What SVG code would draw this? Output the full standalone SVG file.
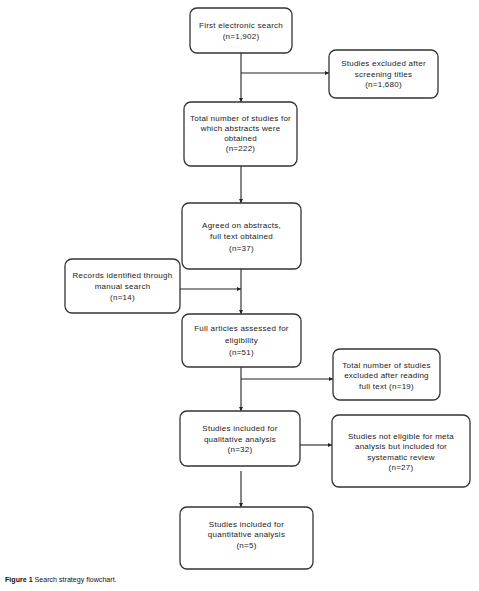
<svg xmlns="http://www.w3.org/2000/svg" width="479" height="591" viewBox="0 0 479 591">
<style>
.box{fill:#fff;stroke:#333;stroke-width:1.3}
.t{font-family:"Liberation Sans",Arial,sans-serif;font-size:8px;letter-spacing:0.25px;fill:#222;text-anchor:middle}
.c{stroke:#222;stroke-width:1.1;fill:none}
.cap{font-family:"Liberation Sans",Arial,sans-serif;font-size:7.1px;fill:#111}
</style>
<defs>
<marker id="ah" viewBox="0 0 10 10" refX="10" refY="5" markerWidth="4" markerHeight="4" orient="auto" markerUnits="userSpaceOnUse">
<path d="M0,0 L10,5 L0,10 z" fill="#222"/>
</marker>
</defs>
<rect width="479" height="591" fill="#fff"/>
<g id="connectors">
<line class="c" x1="241" y1="53" x2="241" y2="102" marker-end="url(#ah)"/>
<line class="c" x1="241" y1="73" x2="329" y2="73" marker-end="url(#ah)"/>
<line class="c" x1="241" y1="166" x2="241" y2="203" marker-end="url(#ah)"/>
<line class="c" x1="180" y1="289" x2="241" y2="289" marker-end="url(#ah)"/>
<line class="c" x1="241" y1="269" x2="241" y2="314" marker-end="url(#ah)"/>
<line class="c" x1="241" y1="367" x2="241" y2="411" marker-end="url(#ah)"/>
<line class="c" x1="241" y1="379" x2="333" y2="379" marker-end="url(#ah)"/>
<line class="c" x1="300" y1="445" x2="332" y2="445" marker-end="url(#ah)"/>
<line class="c" x1="241" y1="471" x2="241" y2="507" marker-end="url(#ah)"/>
</g>
<g id="n1">
<rect class="box" x="190" y="8" width="102" height="45" rx="7"/>
<text class="t" x="241" y="27.5">First electronic search</text>
<text class="t" x="241" y="38.5">(n=1,902)</text>
</g>
<g id="n2">
<rect class="box" x="329" y="50" width="109" height="48" rx="7"/>
<text class="t" x="383.5" y="66">Studies excluded after</text>
<text class="t" x="383.5" y="77">screening titles</text>
<text class="t" x="383.5" y="87">(n=1,680)</text>
</g>
<g id="n3">
<rect class="box" x="184" y="102" width="113" height="64" rx="7"/>
<text class="t" x="240.5" y="121">Total number of studies for</text>
<text class="t" x="240.5" y="131">which abstracts were</text>
<text class="t" x="240.5" y="141">obtained</text>
<text class="t" x="240.5" y="151">(n=222)</text>
</g>
<g id="n4">
<rect class="box" x="182" y="203" width="119" height="66" rx="7"/>
<text class="t" x="241.5" y="228">Agreed on abstracts,</text>
<text class="t" x="241.5" y="239">full text obtained</text>
<text class="t" x="241.5" y="251">(n=37)</text>
</g>
<g id="n5">
<rect class="box" x="65" y="259" width="115" height="54" rx="7"/>
<text class="t" x="122.5" y="278">Records identified through</text>
<text class="t" x="122.5" y="289">manual search</text>
<text class="t" x="122.5" y="300">(n=14)</text>
</g>
<g id="n6">
<rect class="box" x="182" y="314" width="119" height="53" rx="7"/>
<text class="t" x="241.5" y="331">Full articles assessed for</text>
<text class="t" x="241.5" y="343">eligibility</text>
<text class="t" x="241.5" y="355">(n=51)</text>
</g>
<g id="n7">
<rect class="box" x="333" y="349" width="107" height="51" rx="7"/>
<text class="t" x="386.5" y="368">Total number of studies</text>
<text class="t" x="386.5" y="378">excluded after reading</text>
<text class="t" x="386.5" y="389">full text (n=19)</text>
</g>
<g id="n8">
<rect class="box" x="180" y="411" width="120" height="55" rx="7"/>
<text class="t" x="240" y="431">Studies included for</text>
<text class="t" x="240" y="442">qualitative analysis</text>
<text class="t" x="240" y="452">(n=32)</text>
</g>
<g id="n9">
<rect class="box" x="332" y="415" width="138" height="72" rx="7"/>
<text class="t" x="401" y="439">Studies not eligible for meta</text>
<text class="t" x="401" y="449">analysis but included for</text>
<text class="t" x="401" y="460">systematic review</text>
<text class="t" x="401" y="470">(n=27)</text>
</g>
<g id="n10">
<rect class="box" x="180" y="507" width="133" height="62" rx="7"/>
<text class="t" x="246.5" y="527">Studies included for</text>
<text class="t" x="246.5" y="537">quantitative analysis</text>
<text class="t" x="246.5" y="548">(n=5)</text>
</g>
<text class="cap" x="5" y="582"><tspan font-weight="bold">Figure 1</tspan> Search strategy flowchart.</text>
</svg>
